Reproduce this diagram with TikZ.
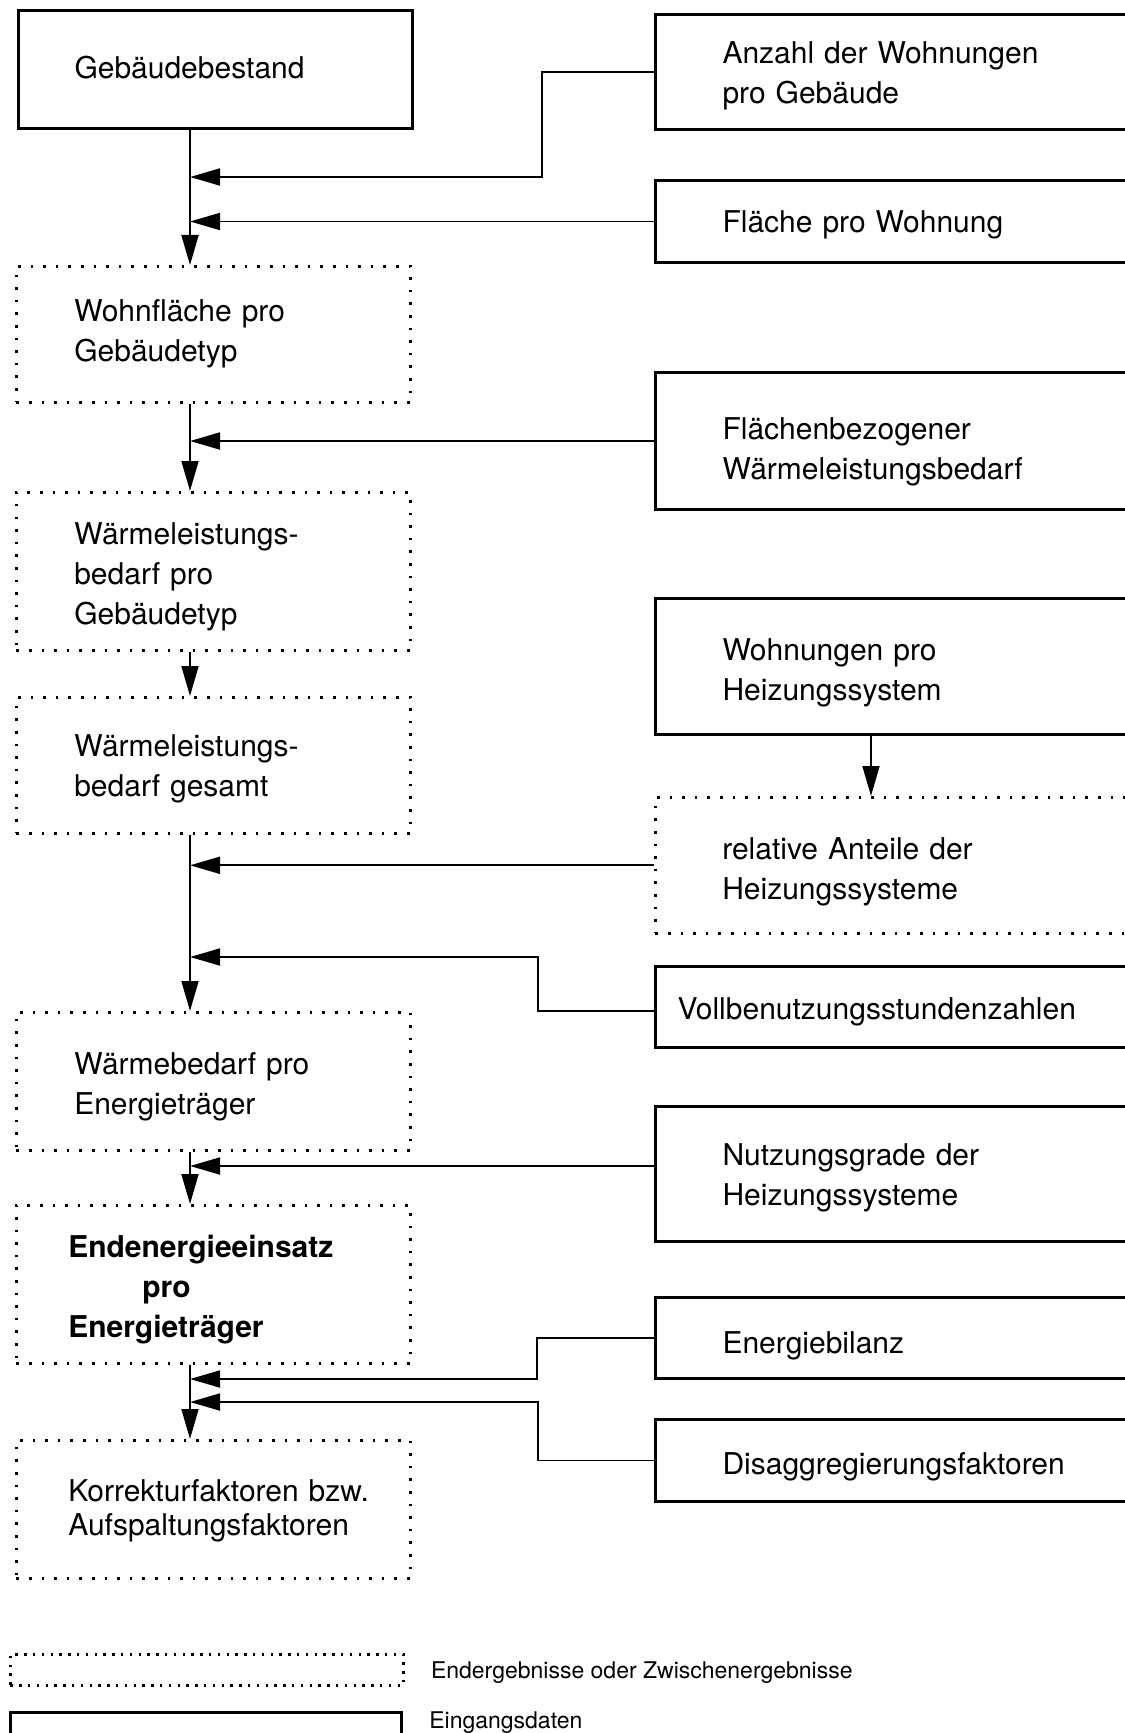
\documentclass[tikz,border=0pt]{standalone}
\usepackage{fontspec}
\setmainfont{TeX Gyre Heros}
\usetikzlibrary{arrows.meta}
\usetikzlibrary{positioning}

\begin{document}
\begin{tikzpicture}
[x=1pt, y=-1pt,
inputnode/.style={rectangle, draw=black, line width=1.5pt, anchor=north west, align=left, text width=193pt, inner xsep=33.5pt, inner ysep=0pt, text height=16pt, font=\fontsize{15}{20}\selectfont},
resultnode/.style={rectangle, draw=black, line width=1.3pt, dash pattern=on 1.3pt off 5pt, anchor=north west, align=left, text width=139pt, inner xsep=29pt, inner ysep=0pt, text height=16pt, font=\fontsize{15}{20}\selectfont},
flow/.style={-{Triangle[length=15pt, width=8.5pt]}, line width=0.9pt},
legendtext/.style={font=\fontsize{11.5}{14}\selectfont, inner sep=0pt, anchor=west},
]
\useasboundingbox (0,0) rectangle (562,866.5);

% left column: results
\node[inputnode, text width=141pt, inner xsep=28pt, text height=9pt, minimum height=59pt] (b1) at (8.5,4.5) {Gebäudebestand};
\node[resultnode, text height=10.5pt, minimum height=68pt] (b2) at (7.5,132.5) {Wohnfläche pro\\Gebäudetyp};
\node[resultnode, minimum height=79pt] (b3) at (7.5,245.5) {Wärmeleistungs-\\bedarf pro\\Gebäudetyp};
\node[resultnode, text height=14.5pt, minimum height=68pt] (b4) at (7.5,348) {Wärmeleistungs-\\bedarf gesamt};
\node[resultnode, minimum height=69pt] (b5) at (7.5,505.5) {Wärmebedarf pro\\Energieträger};
\node[resultnode, text width=145pt, inner xsep=26pt, minimum height=79pt] (b6) at (7.5,602) {\textbf{Endenergieeinsatz}\\\hspace*{37pt}\textbf{pro}\\\textbf{Energieträger}};
\node[resultnode, text width=145pt, inner xsep=26pt, text height=12.5pt, minimum height=69pt, font=\fontsize{15}{16.8}\selectfont] (b7) at (7.5,719.5) {Korrekturfaktoren~bzw.\\Aufspaltungsfaktoren};

% right column: input data
\node[inputnode, text height=14.5pt, minimum height=57.5pt] (r1) at (327,6.5) {Anzahl der Wohnungen\\pro Gebäude};
\node[inputnode, text height=14.5pt, minimum height=41pt] (r2) at (327,89.5) {Fläche pro Wohnung};
\node[inputnode, text height=22pt, minimum height=68.5pt] (r3) at (327,185.5) {Flächenbezogener\\Wärmeleistungsbedarf};
\node[inputnode, text height=17.5pt, minimum height=68pt] (r4) at (327,298.5) {Wohnungen pro\\Heizungssystem};
\node[resultnode, text width=193pt, inner xsep=33.5pt, text height=17.5pt, minimum height=68pt] (r5) at (327,398) {relative Anteile der\\Heizungssysteme};
\node[inputnode, text width=238pt, inner xsep=11pt, minimum height=40.5pt] (r6) at (327,482.5) {Vollbenutzungsstundenzahlen};
\node[inputnode, text height=14.5pt, minimum height=67.5pt] (r7) at (327,552.5) {Nutzungsgrade der\\Heizungssysteme};
\node[inputnode, text height=18.5pt, minimum height=40.5pt] (r8) at (327,648) {Energiebilanz};
\node[inputnode, text height=17.5pt, minimum height=41pt] (r9) at (327,709) {Disaggregierungsfaktoren};

% legend
\node[resultnode, dash pattern=on 1.2pt off 3.2pt, text width=0pt, text height=0pt, inner sep=0pt, minimum width=196.5pt, minimum height=15.5pt] (legres) at (4.5,826.5) {};
\node[legendtext, right=13pt of legres, yshift=-1.5pt] (legrestxt) {Endergebnisse oder Zwischenergebnisse};
\node[inputnode, text width=0pt, text height=0pt, inner sep=0pt, minimum width=195.5pt, minimum height=30pt] (leginp) at (4.5,855.5) {};
\node[legendtext] (leginptxt) at (214.5,861.5) {Eingangsdaten};

% junctions
\coordinate (spine) at (95,0);
\coordinate (j1) at (271,88.5);
\coordinate (j4) at (435.5,0);
\coordinate (j6) at (269,478.5);
\coordinate (j8) at (268.5,689.5);
\coordinate (j9) at (269,701);

% main chain
\draw[flow] (b1.south -| spine) -- (b2.north -| spine);
\draw[flow] (b2.south -| spine) -- (b3.north -| spine);
\draw[flow] (b3.south -| spine) -- (b4.north -| spine);
\draw[flow] (b4.south -| spine) -- (b5.north -| spine);
\draw[flow] (b5.south -| spine) -- (b6.north -| spine);
\draw[flow] (b6.south -| spine) -- (b7.north -| spine);

% inputs
\draw[flow] (r1.west) -| (j1) -- (j1 -| spine);
\draw[flow] (r2.west) -- (r2.west -| spine);
\draw[flow] (r3.west) -- (r3.west -| spine);
\draw[flow] (r4.south -| j4) -- (r5.north -| j4);
\draw[flow] (r5.west) -- (r5.west -| spine);
\draw[flow] ([yshift=-2pt]r6.west) -| (j6) -- (j6 -| spine);
\draw[flow] ([yshift=4pt]r7.west) -- ([yshift=4pt]r7.west -| spine);
\draw[flow] (r8.west) -| (j8) -- (j8 -| spine);
\draw[flow] (r9.west) -| (j9) -- (j9 -| spine);
\end{tikzpicture}
\end{document}
